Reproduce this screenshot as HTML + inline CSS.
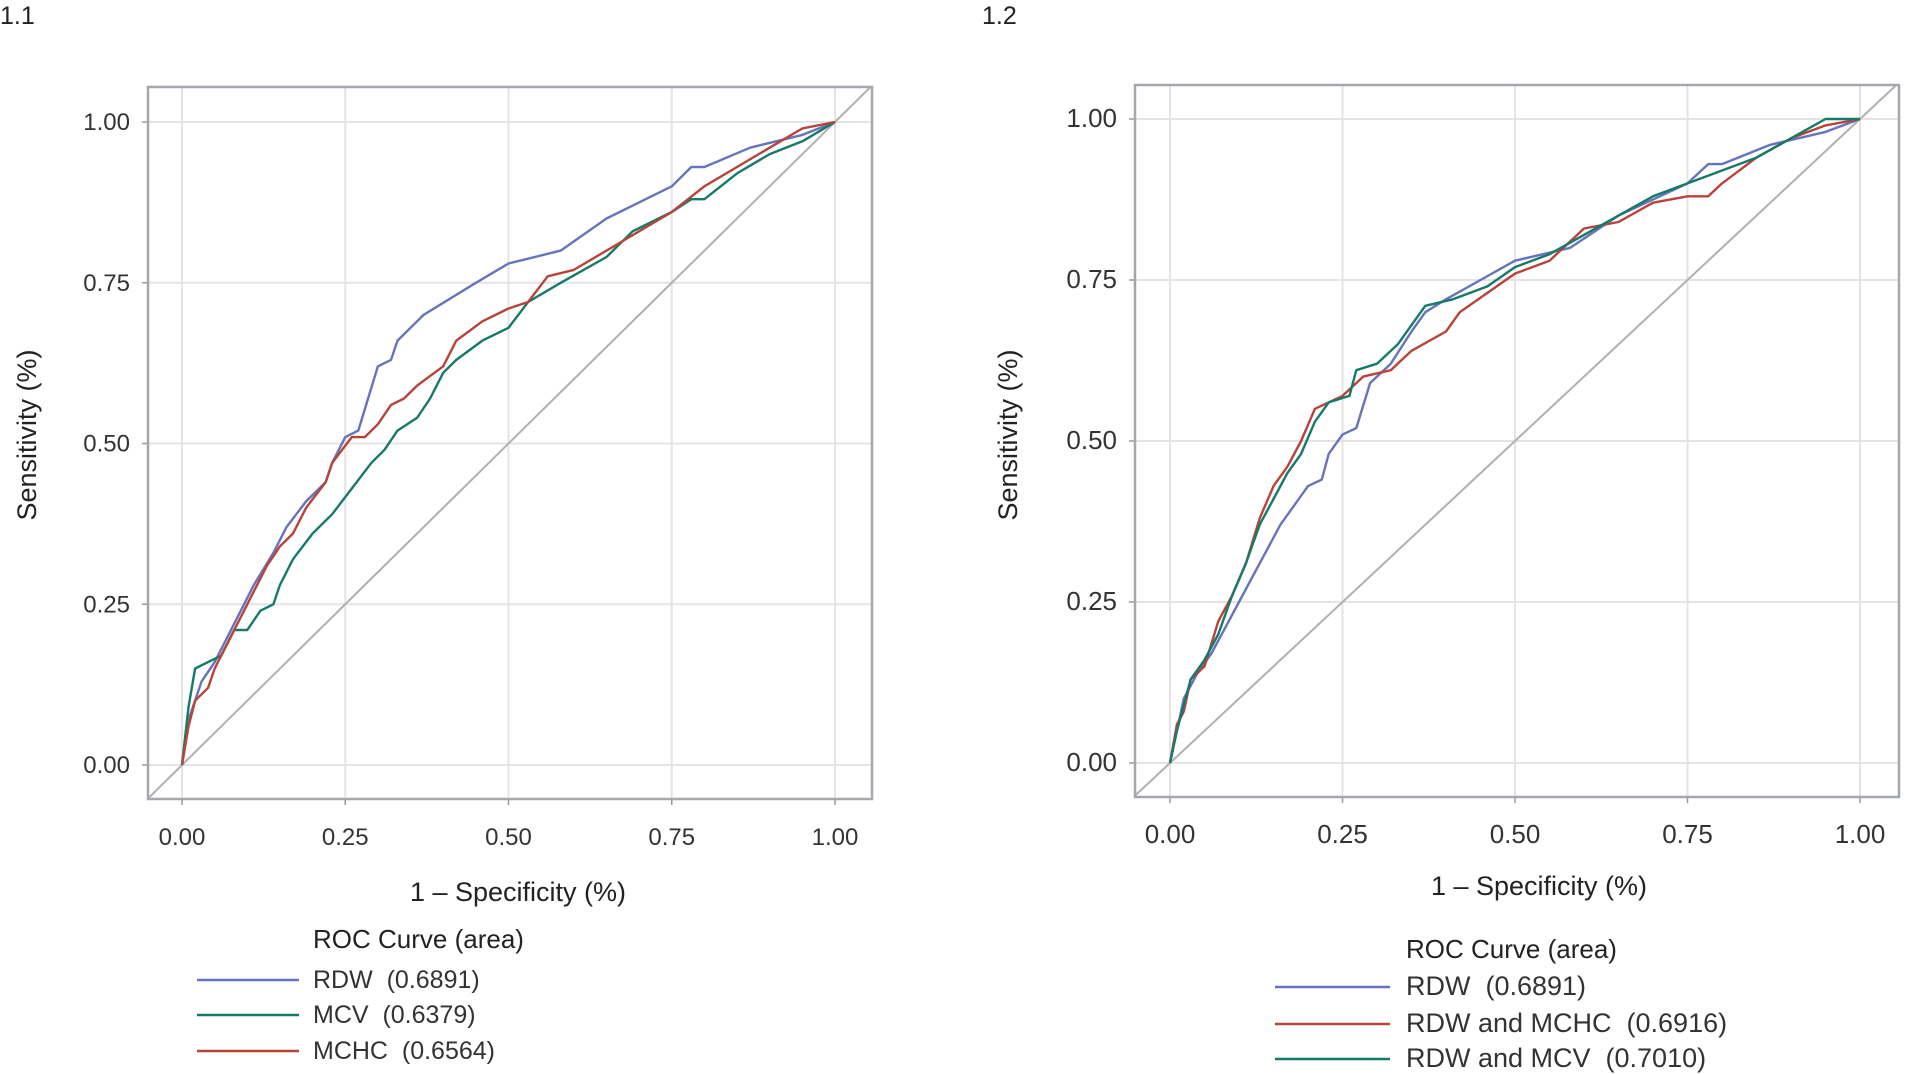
<!DOCTYPE html>
<html><head><meta charset="utf-8"><style>
html,body{margin:0;padding:0;background:#fff;width:1905px;height:1074px;overflow:hidden}
svg{display:block}
text{font-family:"Liberation Sans",Arial,sans-serif;fill:#333;white-space:pre}
.cal{font-family:"Liberation Sans",sans-serif;fill:#222}
</style></head><body>
<svg id="s" width="1905" height="1074" viewBox="0 0 1905 1074">
<text x="0" y="24" font-size="25" class="cal">1.1</text>
<text x="982" y="24" font-size="25" class="cal">1.2</text>
</svg>
<script>
const tickVals=[0,0.25,0.5,0.75,1];
const tickLabels=["0.00","0.25","0.50","0.75","1.00"];
const L_rdw_x=[0,0.01,0.02,0.03,0.05,0.07,0.09,0.11,0.14,0.16,0.19,0.22,0.23,0.25,0.27,0.3,0.32,0.33,0.35,0.37,0.45,0.5,0.58,0.65,0.75,0.78,0.8,0.87,0.95,1];
const L_rdw_y=[0,0.07,0.1,0.13,0.16,0.2,0.24,0.28,0.33,0.37,0.41,0.44,0.47,0.51,0.52,0.62,0.63,0.66,0.68,0.7,0.75,0.78,0.8,0.85,0.9,0.93,0.93,0.96,0.98,1];
const L_mcv_x=[0,0.01,0.02,0.04,0.06,0.08,0.1,0.12,0.14,0.15,0.17,0.2,0.23,0.26,0.29,0.31,0.33,0.36,0.38,0.4,0.42,0.46,0.5,0.53,0.58,0.65,0.69,0.75,0.78,0.8,0.85,0.9,0.95,1];
const L_mcv_y=[0,0.09,0.15,0.16,0.17,0.21,0.21,0.24,0.25,0.28,0.32,0.36,0.39,0.43,0.47,0.49,0.52,0.54,0.57,0.61,0.63,0.66,0.68,0.72,0.75,0.79,0.83,0.86,0.88,0.88,0.92,0.95,0.97,1];
const L_mchc_x=[0,0.01,0.02,0.04,0.05,0.07,0.09,0.11,0.13,0.15,0.17,0.19,0.22,0.23,0.26,0.28,0.3,0.32,0.34,0.36,0.4,0.42,0.46,0.5,0.53,0.56,0.6,0.65,0.7,0.75,0.8,0.85,0.9,0.95,1];
const L_mchc_y=[0,0.06,0.1,0.12,0.15,0.19,0.23,0.27,0.31,0.34,0.36,0.4,0.44,0.47,0.51,0.51,0.53,0.56,0.57,0.59,0.62,0.66,0.69,0.71,0.72,0.76,0.77,0.8,0.83,0.86,0.9,0.93,0.96,0.99,1];
const R_rdw_x=[0,0.01,0.02,0.04,0.06,0.08,0.1,0.12,0.14,0.16,0.18,0.2,0.22,0.23,0.25,0.27,0.29,0.32,0.35,0.37,0.4,0.45,0.5,0.58,0.65,0.75,0.78,0.8,0.87,0.95,1];
const R_rdw_y=[0,0.05,0.1,0.14,0.17,0.21,0.25,0.29,0.33,0.37,0.4,0.43,0.44,0.48,0.51,0.52,0.59,0.62,0.67,0.7,0.72,0.75,0.78,0.8,0.85,0.9,0.93,0.93,0.96,0.98,1];
const R_mchc_x=[0,0.01,0.02,0.03,0.05,0.07,0.09,0.11,0.13,0.15,0.17,0.19,0.21,0.25,0.28,0.32,0.35,0.4,0.42,0.46,0.5,0.55,0.6,0.65,0.7,0.75,0.78,0.8,0.85,0.9,0.95,1];
const R_mchc_y=[0,0.06,0.08,0.13,0.15,0.22,0.26,0.31,0.38,0.43,0.46,0.5,0.55,0.57,0.6,0.61,0.64,0.67,0.7,0.73,0.76,0.78,0.83,0.84,0.87,0.88,0.88,0.9,0.94,0.97,0.99,1];
const R_mcv_x=[0,0.01,0.02,0.03,0.05,0.07,0.09,0.11,0.13,0.15,0.17,0.19,0.21,0.23,0.26,0.27,0.3,0.33,0.35,0.37,0.41,0.46,0.5,0.55,0.6,0.65,0.7,0.75,0.8,0.85,0.9,0.95,1];
const R_mcv_y=[0,0.05,0.09,0.13,0.16,0.2,0.26,0.31,0.37,0.41,0.45,0.48,0.53,0.56,0.57,0.61,0.62,0.65,0.68,0.71,0.72,0.74,0.77,0.79,0.82,0.85,0.88,0.9,0.92,0.94,0.97,1,1];

const NS="http://www.w3.org/2000/svg";
const svg=document.getElementById('s');
function mk(tag,attrs,parent){const e=document.createElementNS(NS,tag);for(const k in attrs)e.setAttribute(k,attrs[k]);(parent||svg).appendChild(e);return e;}
const BLUE="#6673bd",GREEN="#167a68",RED="#b8433a";

function panel(p){
  const g=mk('g',{});
  
  
  const sx=v=>p.x0+v*(p.x1-p.x0), sy=v=>p.y0+v*(p.y1-p.y0);
  tickVals.forEach((v,i)=>{
    const gx=mk('line',{x1:sx(v),x2:sx(v),y1:p.ft,y2:p.fb,stroke:"#e4e4e4","stroke-width":2},g);
    
    
    const gy=mk('line',{x1:p.fl,x2:p.fr,y1:sy(v),y2:sy(v),stroke:"#e4e4e4","stroke-width":2},g);
    
    
    const tl=mk('line',{x1:sx(v),x2:sx(v),y1:p.fb,y2:p.fb+6,stroke:"#999","stroke-width":1.5},g);
    
    
    const tly=mk('line',{x1:p.fl-6,x2:p.fl,y1:sy(v),y2:sy(v),stroke:"#999","stroke-width":1.5},g);
    
    
    const xt=mk('text',{x:sx(v),y:p.fb+46,"font-size":p.fs,"text-anchor":"middle"},g);
    xt.textContent=tickLabels[i];
    
    
    const yt=mk('text',{x:p.fl-18,y:sy(v)+8,"font-size":p.fs,"text-anchor":"end"},g);
    yt.textContent=tickLabels[i];
    
    
  });
  const clipId='c'+p.name;
  const cp=mk('clipPath',{id:clipId},g);
  mk('rect',{x:p.fl,y:p.ft,width:p.fr-p.fl,height:p.fb-p.ft},cp);
  const dl=mk('line',{x1:sx(-0.1),y1:sy(-0.1),x2:sx(1.1),y2:sy(1.1),stroke:"#b0b0b0","stroke-width":2,"clip-path":`url(#${clipId})`},g);
  
  
  p.series.forEach(s=>{
    const pts=s.x.map((v,i)=>sx(v).toFixed(1)+','+sy(s.y[i]).toFixed(1)).join(' ');
    const pl=mk('polyline',{points:pts,fill:"none",stroke:s.c,"stroke-width":2.4,"stroke-linejoin":"round"},g);
    
    
  });
  const fr=mk('rect',{x:p.fl,y:p.ft,width:p.fr-p.fl,height:p.fb-p.ft,fill:"none",stroke:"#a4a8ac","stroke-width":2.5},g);
  
  
  const xt=mk('text',{x:p.xtx,y:p.xty,"font-size":27,"text-anchor":"middle",class:"cal"},g);
  xt.textContent="1 – Specificity (%)";
  
  
  const yt=mk('text',{x:0,y:0,"font-size":27,"text-anchor":"middle",class:"cal",transform:`translate(${p.ytx},${p.yty}) rotate(-90)`},g);
  yt.textContent="Sensitivity (%)";
  
  
  const lt=mk('text',{x:p.lgt,y:p.lgy,"font-size":26,class:"cal"},g);
  lt.textContent="ROC Curve (area)";
  
  
  p.series.forEach((s,i)=>{
    const y=p.ly[i];
    const ll=mk('line',{x1:p.lx0,x2:p.lx1,y1:y-8,y2:y-8,stroke:s.c,"stroke-width":2.4},g);
    
    
    const tx=mk('text',{x:p.lgt,y:y,"font-size":p.lfs},g);
    tx.textContent=s.label;
    
    
  });
}
panel({name:'chart-1-1',fl:148,fr:872,ft:87,fb:799,x0:182,x1:835,y0:765,y1:122,fs:24,
  xtx:518,xty:901,ytx:36,yty:435,lgt:313,lgy:948,lx0:197,lx1:299,ly:[988,1023,1059],lfs:25,
  series:[{x:L_rdw_x,y:L_rdw_y,c:BLUE,n:'rdw',label:"RDW  (0.6891)"},
          {x:L_mcv_x,y:L_mcv_y,c:GREEN,n:'mcv',label:"MCV  (0.6379)"},
          {x:L_mchc_x,y:L_mchc_y,c:RED,n:'mchc',label:"MCHC  (0.6564)"}]});
panel({name:'chart-1-2',fl:1135,fr:1899,ft:85,fb:797,x0:1170,x1:1860,y0:763,y1:119,fs:26,
  xtx:1539,xty:895,ytx:1017,yty:435,lgt:1406,lgy:958,lx0:1275,lx1:1390,ly:[995,1032,1067],lfs:27,
  series:[{x:R_rdw_x,y:R_rdw_y,c:BLUE,n:'rdw',label:"RDW  (0.6891)"},
          {x:R_mchc_x,y:R_mchc_y,c:RED,n:'rdw-mchc',label:"RDW and MCHC  (0.6916)"},
          {x:R_mcv_x,y:R_mcv_y,c:GREEN,n:'rdw-mcv',label:"RDW and MCV  (0.7010)"}]});
</script>
</body></html>
